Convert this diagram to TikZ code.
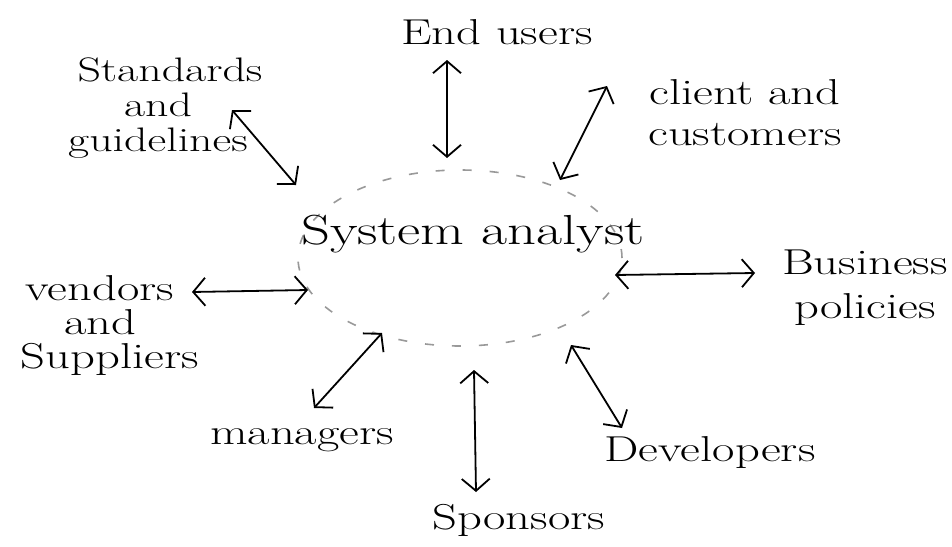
\documentclass[tikz,border=0pt]{standalone}
\usepackage{fontspec}
\setmainfont{Latin Modern Roman}[FakeStretch=1.35]
\usetikzlibrary{arrows.meta,shapes.geometric}
\begin{document}
\begin{tikzpicture}[x=1pt,y=-1pt,
  lbl/.style={font=\fontsize{36}{38}\selectfont, align=center, inner sep=0pt},
  link/.style={line width=1.8pt, {Straight Barb[length=12pt,width=28pt,line width=1.8pt]}-{Straight Barb[length=12pt,width=28pt,line width=1.8pt]}},
  hub/.style={draw=black!40, line width=1.6pt, dash pattern=on 9pt off 18pt, ellipse, minimum width=324pt, minimum height=176pt, inner sep=0pt}]
  \useasboundingbox (0,0) rectangle (952,546);
  \fill[white] (0,0) rectangle (952,546);

  % central actor
  \node[hub] (sa) at (460,258) {};
  \node[lbl, font=\fontsize{42}{44}\selectfont] (satext) at (473,234) {System analyst};

  % stakeholders
  \node[lbl] (eu) at (497,32) {End users};
  \node[lbl, font=\fontsize{36}{41}\selectfont] (cc) at (745,113) {client and\\customers};
  \node[lbl, font=\fontsize{34}{35}\selectfont] (sg) at (158,108)
    {\hspace*{24pt}Standards\\and\\guidelines};
  \node[lbl, font=\fontsize{36}{34}\selectfont] (vs) at (100,326)
    {vendors\\and\\\hspace*{20pt}Suppliers};
  \node[lbl, font=\fontsize{36}{44}\selectfont] (bp) at (865,288) {Business\\policies};
  \node[lbl] (mg) at (302,440) {managers};
  \node[lbl] (sp) at (519,520) {Sponsors};
  \node[lbl] (dv) at (710,453) {Developers};

  % connector end points
  \coordinate (euA) at (447,60);   \coordinate (euB) at (447,158);
  \coordinate (ccA) at (607,86);   \coordinate (ccB) at (560,180);
  \coordinate (sgA) at (232,110);  \coordinate (sgB) at (296,185);
  \coordinate (vsA) at (192,292);  \coordinate (vsB) at (308,290);
  \coordinate (bpA) at (755,273);  \coordinate (bpB) at (615,275);
  \coordinate (mgA) at (314,408);  \coordinate (mgB) at (382,333);
  \coordinate (spA) at (476,492);  \coordinate (spB) at (474,370);
  \coordinate (dvA) at (622,428);  \coordinate (dvB) at (571,345);

  % two-way relations with the analyst
  \draw[link] (euA) -- (euB);
  \draw[link] (ccA) -- (ccB);
  \draw[link] (sgA) -- (sgB);
  \draw[link] (vsA) -- (vsB);
  \draw[link] (bpA) -- (bpB);
  \draw[link] (mgA) -- (mgB);
  \draw[link] (spA) -- (spB);
  \draw[link] (dvA) -- (dvB);
\end{tikzpicture}
\end{document}
